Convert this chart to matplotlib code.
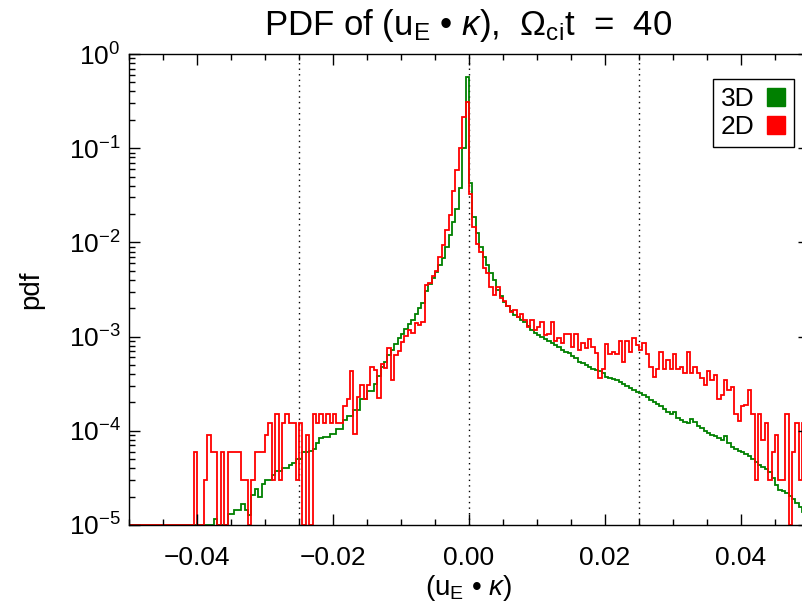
import numpy as np
import matplotlib
matplotlib.use("Agg")
import matplotlib.pyplot as plt
from matplotlib.lines import Line2D
from matplotlib.ticker import MultipleLocator, LogLocator, NullFormatter, FuncFormatter

nan = np.nan

# histogram bins
x_min, x_max, n_bins = -0.05, 0.05, 200
y_min, y_max = 1e-5, 1.0

# log10(pdf) per bin (nan = empty bin)
log_pdf_3d = (
    [nan] * 25
    + [-4.94, nan, nan, nan, -4.88, -4.88, -4.84, -4.84, -4.78, -4.84,
       -4.89, -4.68, -4.62, -4.70, -4.56, -4.52, -4.52, -4.47, -4.43, -4.43,
       -4.39, -4.39, -4.36, -4.34, -4.30, -4.30, -4.22, -4.22, -4.21, -4.19,
       -4.13, -4.08, -4.07, -4.07, -4.03, -4.03, -3.98, -3.98, -3.89, -3.84,
       -3.84, -3.78, -3.78, -3.66, -3.66, -3.58, -3.58, -3.50, -3.42, -3.32,
       -3.27, -3.20, -3.14, -3.08, -3.02, -2.97, -2.92, -2.87, -2.82, -2.76,
       -2.70, -2.64, -2.52, -2.44, -2.38, -2.31, -2.24, -2.17, -2.05, -1.92,
       -1.78, -1.65, -1.42, -1.00, -0.24]
    + [-1.37, -1.73, -1.90, -2.05, -2.16, -2.24, -2.32, -2.40, -2.50, -2.57,
       -2.63, -2.68, -2.73, -2.77, -2.79, -2.82, -2.85, -2.89, -2.93, -2.96,
       -2.98, -3.00, -3.03, -3.05, -3.07, -3.09, -3.11, -3.14, -3.16, -3.17,
       -3.21, -3.23, -3.27, -3.28, -3.30, -3.32, -3.34, -3.35, -3.37, -3.39,
       -3.43, -3.44, -3.45, -3.46, -3.48, -3.50, -3.52, -3.55, -3.57, -3.59,
       -3.60, -3.62, -3.64, -3.67, -3.69, -3.72, -3.74, -3.77, -3.80, -3.82,
       -3.80, -3.86, -3.89, -3.91, -3.92, -3.88, -3.91, -3.95, -3.97, -4.00,
       -4.02, -4.04, -4.06, -4.08, -4.10, -4.06, -4.13, -4.17, -4.19, -4.21,
       -4.22, -4.25, -4.27, -4.30, -4.33, -4.36, -4.38, -4.41, -4.44, -4.50,
       -4.58, -4.63, -4.64, -4.66, -4.69, -4.72, -4.77, -4.81, -4.86, -4.90]
)

log_pdf_2d = (
    [nan] * 19
    + [-4.22, nan, nan, -4.52, -4.04, -4.22, -4.22, nan, -4.22, nan,
       -4.22, -4.22, -4.22, -4.22, -4.52, -4.52, nan, -4.52, -4.22, -4.22,
       -4.22, -4.04, -3.92, -4.52, -3.82, -4.52, -3.92, -3.82, -3.92, -3.92,
       -4.52, -3.92, nan, -4.04, nan, -3.82, -3.92, -3.82, -3.92, -3.82,
       -3.92, -3.82, -3.92, -3.92, -3.74, -3.66, -3.37, -4.03, -3.64, -3.51,
       -3.66, -3.51, -3.32, -3.35, -3.65, -3.29, -3.33, -3.12, -3.46, -3.20,
       -3.15, -3.06, -2.99, -2.93, -2.96, -2.86, -2.88, -2.84, -2.45, -2.43,
       -2.36, -2.30, -2.16, -2.03, -1.87, -1.71, -1.45, -1.23, -1.00, -0.67,
       -0.51, -1.49, -1.84, -2.02, -2.10, -2.27, -2.33, -2.47, -2.56, -2.47,
       -2.59, -2.62, -2.68, -2.74, -2.72, -2.79, -2.76, -2.82, -2.90, -2.82,
       -2.93, -2.90, -2.84, -2.98, -2.97, -2.85, -3.05, -3.02, -3.07, -2.97,
       -2.97, -3.11, -2.97, -3.14, -3.07, -3.12, -3.03, -3.11, -3.17, -3.44,
       -3.34, -3.08, -3.19, -3.16, -3.19, -3.05, -3.27, -3.05, -3.16, -3.02,
       -3.09, -3.14, -3.07, -3.19, -3.32, -3.43, -3.34, -3.16, -3.34, -3.25,
       -3.34, -3.19, -3.34, -3.32, -3.39, -3.16, -3.39, -3.32, -3.39, -3.44,
       -3.51, -3.37, -3.46, -3.41, -3.66, -3.62, -3.46, -3.57, -3.53, -3.82,
       -3.90, -3.74, -3.73, -3.57, -3.82, -4.52, -3.82, -4.10, -3.92, -4.52,
       -4.22, -4.04, -4.52, -4.52, -3.82, nan, -4.22, -3.92, -4.52, -3.92,
       -4.22]
)

guide_x = [-0.025, 0.0, 0.025]
series_names = ["3D", "2D"]
series_colors = ["#008000", "#ff0000"]

plt.rcParams["font.family"] = ["Liberation Sans", "DejaVu Sans"]
plt.rcParams["mathtext.fontset"] = "custom"
plt.rcParams["mathtext.rm"] = "Liberation Sans"
plt.rcParams["mathtext.it"] = "Liberation Sans:italic"
plt.rcParams["mathtext.bf"] = "Liberation Sans:bold"


def to_pdf(logs):
    v = np.power(10.0, np.array(logs, dtype=float))
    # empty bins sit on the bottom of the plot, like the original
    return np.where(np.isnan(v), y_min, v)


edges = np.linspace(x_min, x_max, n_bins + 1)

fig = plt.figure(figsize=(8.03, 6.07), dpi=100)
ax = fig.add_axes([129 / 803, 82 / 607, 680 / 803, 471 / 607])

ax.stairs(to_pdf(log_pdf_3d), edges, baseline=None, color=series_colors[0], lw=1.3)
ax.stairs(to_pdf(log_pdf_2d), edges, baseline=None, color=series_colors[1], lw=1.3)

for gx in guide_x:
    ax.axvline(gx, color="black", lw=1.0, ls=(0, (1, 3)), zorder=0)

ax.set_yscale("log")
ax.set_xlim(x_min, x_max)
ax.set_ylim(y_min, y_max)

ax.xaxis.set_major_locator(MultipleLocator(0.02))
ax.xaxis.set_minor_locator(MultipleLocator(0.005))
ax.xaxis.set_major_formatter(FuncFormatter(lambda v, p: f"{v:.2f}".replace("-", "\u2212")))
ax.yaxis.set_major_locator(LogLocator(base=10, numticks=10))
ax.yaxis.set_minor_locator(LogLocator(base=10, subs=np.arange(2, 10), numticks=20))
ax.yaxis.set_minor_formatter(NullFormatter())
ax.yaxis.set_major_formatter(FuncFormatter(lambda v, p: f"$10^{{{int(round(np.log10(v)))}}}$"))

ax.tick_params(which="both", direction="in", top=True, right=True, width=1.0, labelsize=19)
ax.tick_params(which="major", length=8)
ax.tick_params(which="minor", length=4.5)
ax.tick_params(axis="x", pad=15)
ax.tick_params(axis="y", pad=6)
for s in ax.spines.values():
    s.set_linewidth(1.0)

ax.set_xlabel("(u$_{\\rm E}$ \u2022 $\\kappa$)", fontsize=20, labelpad=2)
ax.set_ylabel("pdf", fontsize=20)
ax.yaxis.set_label_coords(-0.125, 0.5)

fig.text(468 / 803, 1 - 26 / 607,
         "PDF of (u$_{\\rm E}$ \u2022 $\\kappa$),  $\\Omega_{\\rm ci}$t  =  40",
         ha="center", va="center", fontsize=25)

handles = [Line2D([], [], ls="", marker="s", markersize=13, color=c) for c in series_colors]
leg = ax.legend(handles, series_names, loc="upper right", markerfirst=False,
                bbox_to_anchor=(794 / 803, 1 - 79 / 607), bbox_transform=fig.transFigure,
                fancybox=False, edgecolor="black", framealpha=1, fontsize=19,
                borderaxespad=0, handlelength=0.8, handletextpad=0.4,
                labelspacing=0.15, borderpad=0.3)
leg.get_frame().set_linewidth(1.0)

fig.savefig("out.png", dpi=100)
